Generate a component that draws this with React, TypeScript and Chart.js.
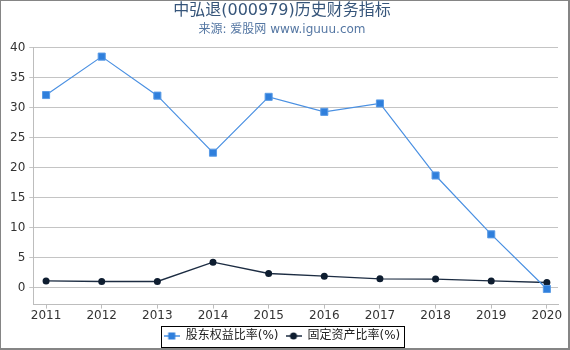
import React, { useEffect, useRef } from "react";
import { Chart, registerables } from "chart.js";

Chart.register(...registerables);

const years = [2011, 2012, 2013, 2014, 2015, 2016, 2017, 2018, 2019, 2020];
const equityRatio = [32.1, 38.5, 32.0, 22.5, 31.8, 29.3, 30.7, 18.7, 8.9, -0.2];
const fixedAssetRatio = [1.15, 1.05, 1.05, 4.27, 2.38, 1.93, 1.5, 1.45, 1.15, 0.88];
const seriesNames = ["股东权益比率(%)", "固定资产比率(%)"];
const titleText = "中弘退(000979)历史财务指标";
const subtitleText = "来源: 爱股网 www.iguuu.com";

const FONT = '"DejaVu Sans", "Noto Sans CJK SC", sans-serif';

function makeMarker(color: string, lineColor: string, shape: "rect" | "circle") {
  const c = document.createElement("canvas");
  c.width = 16;
  c.height = 10;
  const ctx = c.getContext("2d")!;
  ctx.strokeStyle = lineColor;
  ctx.lineWidth = 1.5;
  ctx.beginPath();
  ctx.moveTo(0, 5);
  ctx.lineTo(16, 5);
  ctx.stroke();
  ctx.fillStyle = color;
  if (shape === "rect") {
    ctx.fillRect(4.5, 1.5, 7, 7);
  } else {
    ctx.beginPath();
    ctx.arc(8, 5, 3.5, 0, Math.PI * 2);
    ctx.fill();
  }
  return c;
}

const framePlugin = {
  id: "frame",
  beforeDraw(chart: any) {
    const ctx = chart.ctx;
    ctx.save();
    ctx.fillStyle = "#ffffff";
    ctx.fillRect(0, 0, chart.width, chart.height);
    ctx.restore();
  },
  afterDraw(chart: any) {
    const ctx = chart.ctx;
    const w = chart.width;
    const h = chart.height;
    ctx.save();
    ctx.fillStyle = "#858585";
    ctx.fillRect(0, 0, w, 1);
    ctx.fillRect(0, 0, 1, h);
    ctx.fillRect(w - 2, 0, 2, h);
    ctx.fillRect(0, h - 2, w, 2);
    // legend border
    const lg = chart.legend;
    if (lg && lg.legendHitBoxes && lg.legendHitBoxes.length) {
      const boxes = lg.legendHitBoxes;
      let l = Infinity, r = -Infinity, t = Infinity, b = -Infinity;
      boxes.forEach((bx: any) => {
        l = Math.min(l, bx.left);
        r = Math.max(r, bx.left + bx.width);
        t = Math.min(t, bx.top);
        b = Math.max(b, bx.top + bx.height);
      });
      ctx.strokeStyle = "#000000";
      ctx.lineWidth = 1;
      ctx.strokeRect(Math.round(l - 3) + 0.5, Math.round(t - 4) + 0.5, Math.round(r - l + 6), Math.round(b - t + 9));
    }
    ctx.restore();
  },
};

export default function App() {
  const ref = useRef<HTMLCanvasElement>(null);
  useEffect(() => {
    document.body.style.margin = "0";
    const markers = [
      makeMarker("#2f7fdc", "#4a90e2", "rect"),
      makeMarker("#0e1d30", "#1c2c42", "circle"),
    ];
    const chart = new Chart(ref.current!, {
      type: "line",
      data: {
        datasets: [
          {
            label: seriesNames[0],
            data: years.map((y, i) => ({ x: y, y: equityRatio[i] })),
            borderColor: "#4a90e2",
            backgroundColor: "#2f7fdc",
            borderWidth: 1.2,
            pointStyle: "rect",
            pointRadius: 5,
            pointBorderWidth: 1,
            pointBorderColor: "#5a9be6",
            pointBackgroundColor: "#2f7fdc",
            tension: 0,
          },
          {
            label: seriesNames[1],
            data: years.map((y, i) => ({ x: y, y: fixedAssetRatio[i] })),
            borderColor: "#1c2c42",
            backgroundColor: "#0e1d30",
            borderWidth: 1.3,
            pointStyle: "circle",
            pointRadius: 3.5,
            pointBorderWidth: 0,
            pointBackgroundColor: "#0e1d30",
            tension: 0,
          },
        ],
      },
      options: {
        responsive: false,
        animation: false,
        devicePixelRatio: 1,
        layout: { padding: { left: 6, right: 12, top: 0, bottom: -2 } },
        font: { family: FONT },
        plugins: {
          title: {
            display: true,
            text: titleText,
            color: "#36557a",
            font: { family: FONT, size: 16, weight: "normal" },
            padding: { top: 1, bottom: 0 },
          },
          subtitle: {
            display: true,
            text: subtitleText,
            color: "#5577a3",
            font: { family: FONT, size: 12, weight: "normal" },
            padding: { top: 2, bottom: 11 },
          },
          legend: {
            display: true,
            position: "bottom",
            labels: {
              usePointStyle: true,
              pointStyleWidth: 16,
              padding: 7,
              color: "#222222",
              font: { family: FONT, size: 12 },
              generateLabels: (c: any) =>
                c.data.datasets.map((ds: any, i: number) => ({
                  text: ds.label,
                  pointStyle: markers[i],
                  fillStyle: ds.backgroundColor,
                  strokeStyle: ds.borderColor,
                  lineWidth: 0,
                  hidden: false,
                  datasetIndex: i,
                  fontColor: "#222222",
                })),
            },
          },
          tooltip: { enabled: false },
        },
        scales: {
          x: {
            type: "linear",
            min: 2010.77,
            max: 2020.2,
            grid: { drawOnChartArea: false, drawTicks: true, tickLength: 4, color: "#bdbdbd" },
            border: { color: "#bdbdbd" },
            ticks: {
              stepSize: 1,
              includeBounds: false,
              padding: 0,
              color: "#333333",
              font: { family: FONT, size: 12 },
              callback: (v: any) => String(v),
            },
          },
          y: {
            min: -2.8,
            max: 40,
            grid: { color: "#c4c4c4", drawTicks: true, tickLength: 4 },
            border: { color: "#bdbdbd" },
            ticks: {
              stepSize: 5,
              includeBounds: false,
              padding: 4,
              color: "#333333",
              font: { family: FONT, size: 12 },
            },
          },
        },
      },
      plugins: [framePlugin],
    } as any);
    return () => chart.destroy();
  }, []);
  return <canvas ref={ref} width={570} height={350} style={{ display: "block" }} />;
}
